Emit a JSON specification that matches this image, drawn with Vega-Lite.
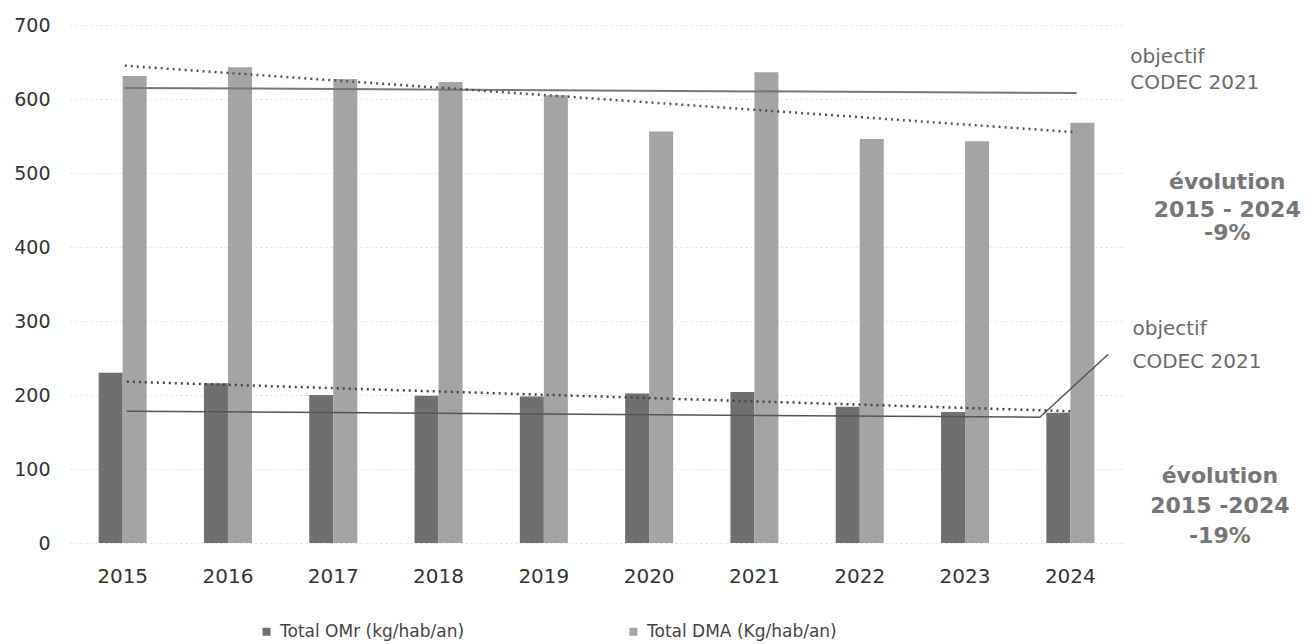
{
  "$schema": "https://vega.github.io/schema/vega-lite/v6.json",
  "width": 1053,
  "height": 518,
  "autosize": "none",
  "padding": {"left": 70, "top": 25, "right": 184, "bottom": 101},
  "background": "white",
  "config": {"view": {"stroke": null}, "font": "DejaVu Sans"},
  "datasets": {
    "bars": [
      {"year": "2015", "series": "Total OMr (kg/hab/an)", "value": 230},
      {"year": "2016", "series": "Total OMr (kg/hab/an)", "value": 216},
      {"year": "2017", "series": "Total OMr (kg/hab/an)", "value": 200},
      {"year": "2018", "series": "Total OMr (kg/hab/an)", "value": 199},
      {"year": "2019", "series": "Total OMr (kg/hab/an)", "value": 198},
      {"year": "2020", "series": "Total OMr (kg/hab/an)", "value": 202},
      {"year": "2021", "series": "Total OMr (kg/hab/an)", "value": 204},
      {"year": "2022", "series": "Total OMr (kg/hab/an)", "value": 184},
      {"year": "2023", "series": "Total OMr (kg/hab/an)", "value": 177},
      {"year": "2024", "series": "Total OMr (kg/hab/an)", "value": 176},
      {"year": "2015", "series": "Total DMA (Kg/hab/an)", "value": 631},
      {"year": "2016", "series": "Total DMA (Kg/hab/an)", "value": 643},
      {"year": "2017", "series": "Total DMA (Kg/hab/an)", "value": 627},
      {"year": "2018", "series": "Total DMA (Kg/hab/an)", "value": 623},
      {"year": "2019", "series": "Total DMA (Kg/hab/an)", "value": 605},
      {"year": "2020", "series": "Total DMA (Kg/hab/an)", "value": 556},
      {"year": "2021", "series": "Total DMA (Kg/hab/an)", "value": 636},
      {"year": "2022", "series": "Total DMA (Kg/hab/an)", "value": 546},
      {"year": "2023", "series": "Total DMA (Kg/hab/an)", "value": 543},
      {"year": "2024", "series": "Total DMA (Kg/hab/an)", "value": 568}
    ],
    "lines": [
      {"line": "objDMA", "x": 2015.02, "y": 615},
      {"line": "objDMA", "x": 2024.06, "y": 608},
      {"line": "trendDMA", "x": 2015.02, "y": 645},
      {"line": "trendDMA", "x": 2024.06, "y": 555},
      {"line": "objOMr", "x": 2015.04, "y": 178},
      {"line": "objOMr", "x": 2023.71, "y": 170},
      {"line": "objOMr", "x": 2024.36, "y": 255},
      {"line": "trendOMr", "x": 2015.04, "y": 218},
      {"line": "trendOMr", "x": 2024.02, "y": 178}
    ],
    "notes": [
      {"kind": "obj", "text": "objectif", "x": 2024.57, "y": 648},
      {"kind": "obj", "text": "CODEC 2021", "x": 2024.57, "y": 614},
      {"kind": "evo", "text": "évolution", "x": 2025.49, "y": 478},
      {"kind": "evo", "text": "2015 - 2024", "x": 2025.49, "y": 441},
      {"kind": "evo", "text": "-9%", "x": 2025.49, "y": 409},
      {"kind": "obj", "text": "objectif", "x": 2024.59, "y": 281},
      {"kind": "obj", "text": "CODEC 2021", "x": 2024.59, "y": 236},
      {"kind": "evo", "text": "évolution", "x": 2025.42, "y": 81},
      {"kind": "evo", "text": "2015 -2024", "x": 2025.42, "y": 41},
      {"kind": "evo", "text": "-19%", "x": 2025.42, "y": 0}
    ]
  },
  "layer": [
    {
      "data": {"name": "bars"},
      "mark": {"type": "bar"},
      "encoding": {
        "x": {
          "field": "year", "type": "ordinal",
          "scale": {"paddingInner": 0.544, "paddingOuter": 0.272},
          "axis": {"title": null, "labelAngle": 0, "domain": false, "ticks": false, "labelFontSize": 20, "labelColor": "#333333", "labelPadding": 23}
        },
        "xOffset": {"field": "series", "type": "nominal", "scale": {"domain": ["Total OMr (kg/hab/an)", "Total DMA (Kg/hab/an)"], "paddingInner": 0}},
        "y": {
          "field": "value", "type": "quantitative",
          "scale": {"domain": [0, 700], "nice": false},
          "axis": {"title": null, "values": [0, 100, 200, 300, 400, 500, 600, 700], "domain": false, "ticks": false, "labelFontSize": 19, "labelColor": "#333333", "labelPadding": 20, "grid": true, "gridColor": "#cccccc", "gridDash": [2, 3], "gridOpacity": 0.6}
        },
        "color": {
          "field": "series", "type": "nominal",
          "scale": {"domain": ["Total OMr (kg/hab/an)", "Total DMA (Kg/hab/an)"], "range": ["#6f6f6f", "#a4a4a4"]},
          "legend": {"orient": "none", "legendX": 188, "legendY": 598, "direction": "horizontal", "title": null, "symbolType": "square", "symbolSize": 64, "labelFontSize": 17, "labelColor": "#444444", "columnPadding": 160, "labelOffset": 5, "labelLimit": 300}
        }
      }
    },
    {
      "data": {"name": "lines"},
      "transform": [{"filter": "datum.line == 'objDMA'"}],
      "mark": {"type": "line", "clip": false, "color": "#777777", "strokeWidth": 2},
      "encoding": {
        "x": {"field": "x", "type": "quantitative", "scale": {"domain": [2014.5, 2024.5], "nice": false, "zero": false}, "axis": null},
        "y": {"field": "y", "type": "quantitative"}
      }
    },
    {
      "data": {"name": "lines"},
      "transform": [{"filter": "datum.line == 'trendDMA'"}],
      "mark": {"type": "line", "clip": false, "color": "#555555", "strokeWidth": 2.5, "strokeDash": [2, 4]},
      "encoding": {
        "x": {"field": "x", "type": "quantitative", "scale": {"domain": [2014.5, 2024.5], "nice": false, "zero": false}, "axis": null},
        "y": {"field": "y", "type": "quantitative"}
      }
    },
    {
      "data": {"name": "lines"},
      "transform": [{"filter": "datum.line == 'objOMr'"}],
      "mark": {"type": "line", "clip": false, "color": "#555555", "strokeWidth": 1.5},
      "encoding": {
        "x": {"field": "x", "type": "quantitative", "scale": {"domain": [2014.5, 2024.5], "nice": false, "zero": false}, "axis": null},
        "y": {"field": "y", "type": "quantitative"}
      }
    },
    {
      "data": {"name": "lines"},
      "transform": [{"filter": "datum.line == 'trendOMr'"}],
      "mark": {"type": "line", "clip": false, "color": "#444444", "strokeWidth": 2.5, "strokeDash": [2, 4]},
      "encoding": {
        "x": {"field": "x", "type": "quantitative", "scale": {"domain": [2014.5, 2024.5], "nice": false, "zero": false}, "axis": null},
        "y": {"field": "y", "type": "quantitative"}
      }
    },
    {
      "data": {"name": "notes"},
      "transform": [{"filter": "datum.kind == 'obj'"}],
      "mark": {"type": "text", "clip": false, "align": "left", "baseline": "alphabetic", "fontSize": 20, "color": "#6a6a6a"},
      "encoding": {
        "x": {"field": "x", "type": "quantitative", "scale": {"domain": [2014.5, 2024.5], "nice": false, "zero": false}, "axis": null},
        "y": {"field": "y", "type": "quantitative"},
        "text": {"field": "text"}
      }
    },
    {
      "data": {"name": "notes"},
      "transform": [{"filter": "datum.kind == 'evo'"}],
      "mark": {"type": "text", "clip": false, "align": "center", "baseline": "alphabetic", "fontSize": 22, "fontWeight": "bold", "color": "#767676"},
      "encoding": {
        "x": {"field": "x", "type": "quantitative", "scale": {"domain": [2014.5, 2024.5], "nice": false, "zero": false}, "axis": null},
        "y": {"field": "y", "type": "quantitative"},
        "text": {"field": "text"}
      }
    }
  ],
  "resolve": {"scale": {"x": "independent"}}
}
